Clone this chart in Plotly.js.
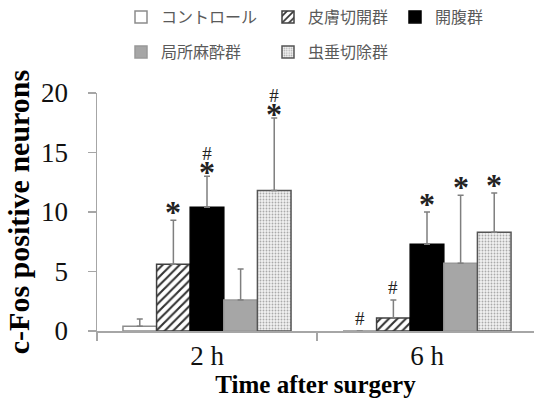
<!DOCTYPE html>
<html><head><meta charset="utf-8">
<script src="https://cdn.plot.ly/plotly-3.0.1.min.js"></script>
<style>body{margin:0;background:#fff}#c{width:534px;height:407px}</style>
</head><body><div id="c"></div>
<script>
const categories = ['2 h', '6 h'];
const seriesNames = ['コントロール', '皮膚切開群', '開腹群', '局所麻酔群', '虫垂切除群'];
const control   = [0.4, 0];
const skinCut   = [5.6, 1.1];
const laparotomy= [10.4, 7.3];
const localAnes = [2.6, 5.7];
const appendect = [11.8, 8.3];
const errControl = [0.6, 0];
const errSkin    = [3.7, 1.5];
const errLap     = [2.6, 2.7];
const errLocal   = [2.6, 5.7];
const errAppend  = [6.1, 3.3];
// significance marks per series [2h, 6h]
const starMarks = [['', ''], ['*', ''], ['*', '*'], ['', '*'], ['*', '*']];
const hashMarks = [['', '#'], ['', '#'], ['#', ''], ['', ''], ['#', '']];

const values = [control, skinCut, laparotomy, localAnes, appendect];
const errs = [errControl, errSkin, errLap, errLocal, errAppend];

const styles = [
  {color:'#ffffff', line:'#8c8c8c'},
  {color:'#ffffff', line:'#404040', pattern:{shape:'/', fgcolor:'#333', bgcolor:'#fff', size:6, solidity:0.35}},
  {color:'#000000', line:'#000000'},
  {color:'#a6a6a6', line:'#999999'},
  {color:'#eeeeee', line:'#555555', pattern:{shape:'.', fgcolor:'#aaa', bgcolor:'#f2f2f2', size:3, solidity:0.3}}
];
// legend positions (container px)
const legPos = [[121,17],[268,17],[395,17],[121,52],[268,52]];
const W=534,H=407;

const traces = values.map((v,i)=>{
  const m = {color: styles[i].color, line:{color: styles[i].line, width:1.5}};
  if (styles[i].pattern) m.pattern = styles[i].pattern;
  return {
    type:'bar', name: seriesNames[i], x: categories, y: v,
    marker: m,
    error_y:{type:'data', symmetric:false, array: errs[i], arrayminus: v.map(()=>0), color:'#7f7f7f', thickness:1.5, width:3},
    legend: i===0 ? 'legend' : 'legend'+(i+1),
    cliponaxis:false
  };
});

const groupFrac = 1-0.236, bw = groupFrac/5;
const annotations = [];
const starSpan = s => '<span style="font-size:32px;font-weight:bold">'+s+'</span>';
const hashSpan = s => '<span style="font-size:19px">'+s+'</span>';
values.forEach((v,i)=>{
  v.forEach((val,j)=>{
    const top = val + errs[i][j];
    const xx = j + (i-2)*bw;
    const st = starMarks[i][j], hs = hashMarks[i][j];
    if (!st && !hs) return;
    let text, yshift, fs = 22;
    if (st && hs) { text = hashSpan(hs)+'<br>'+starSpan(st); yshift = -16; fs = 18; }
    else if (st) { text = starSpan(st); yshift = -12; }
    else { text = hashSpan(hs); yshift = 0; }
    annotations.push({x:xx, y:top, xref:'x', yref:'y', text:text, showarrow:false,
      yanchor:'bottom', yshift:yshift, font:{family:'Liberation Serif', size:fs, color:'#222'}});
  });
});

const layout = {
  width:W, height:H,
  margin:{l:97, r:0, t:93, b:76},
  paper_bgcolor:'#fff', plot_bgcolor:'#fff',
  barmode:'group', bargap:0.236, bargroupgap:0,
  showlegend:true,
  xaxis:{type:'category', range:[-0.5, -0.5+437/220], showline:true, linecolor:'#a6a6a6', linewidth:1.5,
    ticks:'outside', tickson:'boundaries', ticklen:8, tickcolor:'#a6a6a6', tickwidth:1.5,
    showgrid:false, zeroline:false,
    tickfont:{family:'Liberation Serif', size:27, color:'#111'},
    title:{text:'<b>Time after surgery</b>', font:{family:'Liberation Serif', size:25, color:'#000'}, standoff:0}},
  yaxis:{range:[0,20], tickvals:[0,5,10,15,20], showline:true, linecolor:'#a6a6a6', linewidth:1.5,
    ticks:'outside', ticklen:8, tickcolor:'#a6a6a6', tickwidth:1.5, showgrid:false, zeroline:false,
    ticklabelstandoff:14,
    tickfont:{family:'Liberation Serif', size:27, color:'#111'},
    title:{text:'<b>c-Fos positive neurons</b>', font:{family:'Liberation Serif', size:30, color:'#000'}, standoff:2}},
  annotations: annotations
};
legPos.forEach((p,i)=>{
  const key = i===0 ? 'legend' : 'legend'+(i+1);
  layout[key] = {xref:'container', yref:'container', x:p[0]/W, y:1-p[1]/H, xanchor:'left', yanchor:'middle',
    orientation:'h', bgcolor:'rgba(0,0,0,0)', borderwidth:0, itemclick:false,
    font:{family:'Noto Sans CJK JP', size:16, color:'#5a5a5a'}};
});
Plotly.newPlot('c', traces, layout, {staticPlot:true});
</script></body></html>
